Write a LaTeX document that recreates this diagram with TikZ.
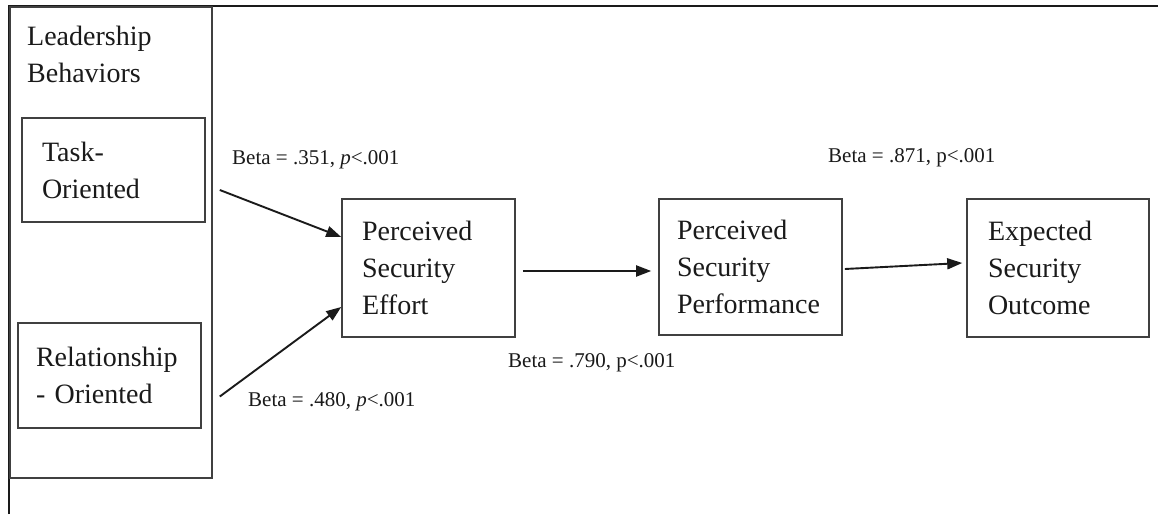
\documentclass[tikz,border=0pt]{standalone}
\usepackage{fontspec}
\setmainfont{Liberation Serif}
\usetikzlibrary{arrows.meta}
\definecolor{boxgray}{HTML}{404040}
\definecolor{ink}{HTML}{1A1A1A}
\begin{document}
\begin{tikzpicture}[x=1pt,y=-1pt,
  box/.style={draw=boxgray, line width=1.6pt, align=left, inner ysep=0pt,
    font=\fontsize{28}{37}\selectfont, text=ink},
  link/.style={line width=1.9pt, draw=ink, -{Triangle[length=15pt,width=11pt]}},
  beta/.style={font=\fontsize{21}{25}\selectfont, text=ink, anchor=west, inner sep=0pt}]
  \useasboundingbox[fill=white] (0,0) rectangle (1158,514);
  % page frame
  \draw[line width=2.2pt, ink] (9,514) -- (9,6) -- (1158,6);
  % leadership behaviors group
  \node[draw=boxgray, line width=1.6pt, minimum width=202pt, minimum height=471pt,
    inner sep=0pt] (lead) at (111,242.5) {};
  \node[anchor=north west, inner sep=0pt, align=left, text=ink,
    font=\fontsize{28}{37}\selectfont] (leadtitle) at (27,26) {Leadership\\Behaviors};
  \node[box, inner xsep=20pt, minimum width=183pt, minimum height=104pt, text width=143pt]
    (task) at (113.5,170) {Task-\\Oriented};
  \node[box, inner xsep=18pt, minimum width=183pt, minimum height=105pt, text width=147pt]
    (rel) at (109.5,375.5) {Relationship\\- Oriented};
  % main chain
  \node[box, inner xsep=20pt, minimum width=173pt, minimum height=138pt, text width=133pt]
    (effort) at (428.5,268) {Perceived\\Security\\Effort};
  \node[box, inner xsep=18pt, minimum width=183pt, minimum height=136pt, text width=147pt]
    (perf) at (750.5,267) {Perceived\\Security\\Performance};
  \node[box, inner xsep=21pt, minimum width=182pt, minimum height=138pt, text width=140pt]
    (outcome) at (1058,268) {Expected\\Security\\Outcome};
  % paths
  \draw[link] ([xshift=14pt,yshift=-20pt]task.east) -- ([yshift=31pt]effort.west);
  \draw[link] ([xshift=18pt,yshift=-21pt]rel.east) -- ([yshift=-39pt]effort.west);
  \draw[link] ([xshift=7pt,yshift=-3pt]effort.east) -- ([xshift=-7pt,yshift=-4pt]perf.west);
  \draw[link] ([xshift=2pt,yshift=-2pt]perf.east) -- ([xshift=-4pt,yshift=5pt]outcome.west);
  % coefficients
  \node[beta] (b1) at (232,160) {Beta = .351, \textit{p}<.001};
  \node[beta] (b2) at (248,402) {Beta = .480, \textit{p}<.001};
  \node[beta] (b3) at (508,363) {Beta = .790, p<.001};
  \node[beta] (b4) at (828,158) {Beta = .871, p<.001};
\end{tikzpicture}
\end{document}
